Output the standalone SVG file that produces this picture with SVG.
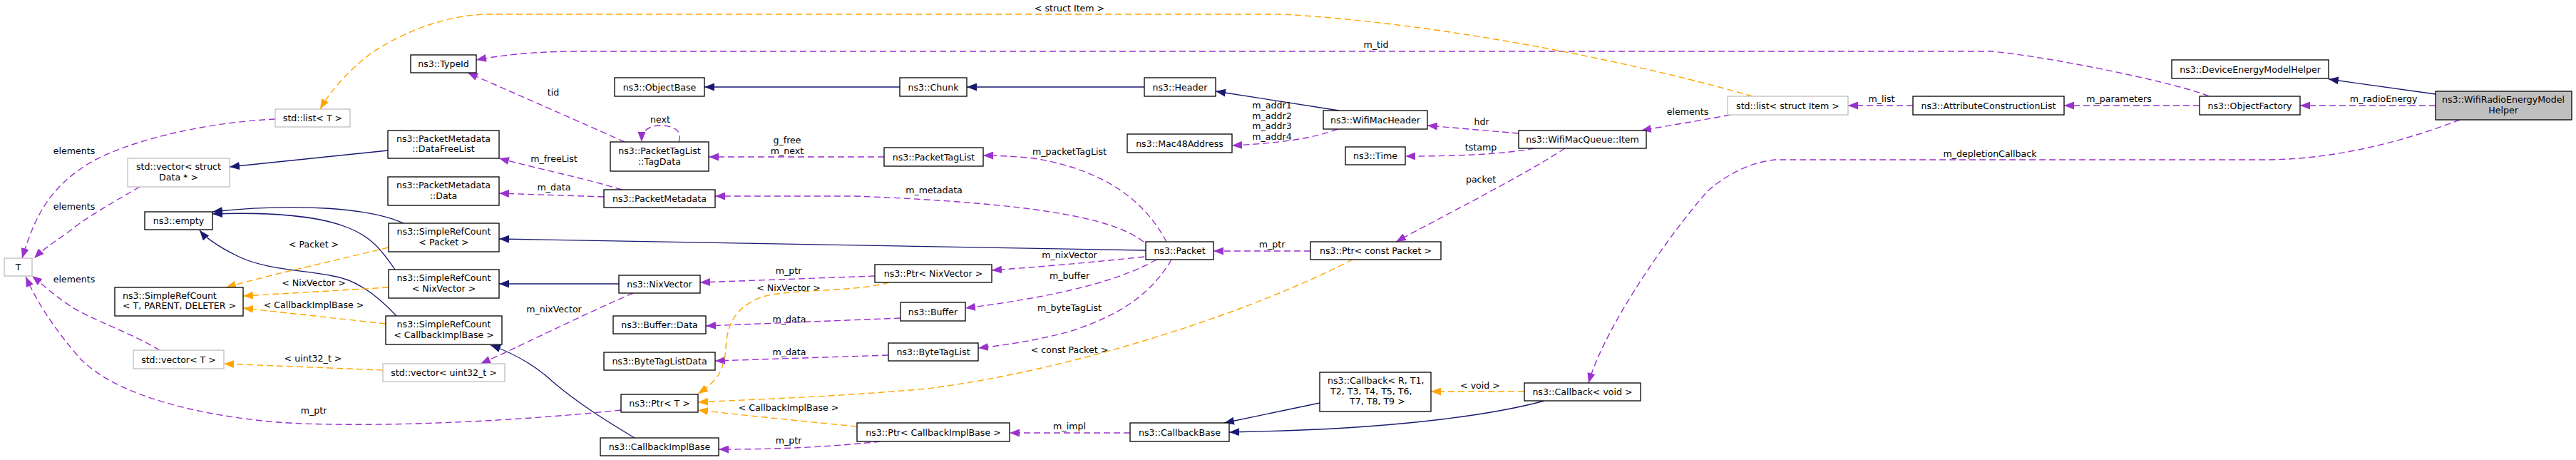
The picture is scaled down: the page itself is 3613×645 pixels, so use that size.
<svg xmlns="http://www.w3.org/2000/svg" width="3613" height="645" viewBox="0 0 3613 645">
<style>
text{font-family:"DejaVu Sans","Liberation Sans",sans-serif;font-size:12.6px;fill:#000}
.c{text-anchor:middle}
.n rect{fill:#fff;stroke:#000;stroke-width:1.3}
.g rect{fill:#fff;stroke:#bfbfbf;stroke-width:1.3}
.h rect{fill:#bfbfbf;stroke:#000;stroke-width:1.3}
.b{fill:none;stroke:#191970;stroke-width:1.3}
.p{fill:none;stroke:#9a32cd;stroke-width:1.4;stroke-dasharray:9,5}
.o{fill:none;stroke:#ffa500;stroke-width:1.4;stroke-dasharray:9,5}
</style>
<defs>
<marker id="ab" markerUnits="userSpaceOnUse" markerWidth="14" markerHeight="11" viewBox="0 0 14 11" refX="14" refY="5.5" orient="auto"><path d="M0,0 L14,5.5 L0,11 z" fill="#191970"/></marker>
<marker id="ap" markerUnits="userSpaceOnUse" markerWidth="14" markerHeight="11" viewBox="0 0 14 11" refX="14" refY="5.5" orient="auto"><path d="M0,0 L14,5.5 L0,11 z" fill="#9a32cd"/></marker>
<marker id="ao" markerUnits="userSpaceOnUse" markerWidth="14" markerHeight="11" viewBox="0 0 14 11" refX="14" refY="5.5" orient="auto"><path d="M0,0 L14,5.5 L0,11 z" fill="#ffa500"/></marker>
</defs>
<rect width="3613" height="645" fill="#fff"/>
<g id="connectors">
<path class="b" marker-end="url(#ab)" d="M544,211 L322,234"/>
<path class="b" marker-end="url(#ab)" d="M566,313 C520,292 420,284 298,297"/>
<path class="b" marker-end="url(#ab)" d="M554,378 C535,350 520,332 490,320 C450,303 380,297 298,300"/>
<path class="b" marker-end="url(#ab)" d="M556,443 C530,415 500,392 467,387 C420,378 370,378 331,358 C305,345 290,335 280,323"/>
<path class="b" marker-end="url(#ab)" d="M1262,122 L988,122"/>
<path class="b" marker-end="url(#ab)" d="M1605,122 L1356,122"/>
<path class="b" marker-end="url(#ab)" d="M1878,155 L1705,128"/>
<path class="b" marker-end="url(#ab)" d="M3416,132 L3266,111"/>
<path class="b" marker-end="url(#ab)" d="M1607,351 L700,335"/>
<path class="b" marker-end="url(#ab)" d="M868,398 L700,398"/>
<path class="b" marker-end="url(#ab)" d="M890,614 C850,590 810,565 775,535 C750,512 720,495 688,484"/>
<path class="b" marker-end="url(#ab)" d="M1851,565 L1717,593"/>
<path class="b" marker-end="url(#ab)" d="M2166,562 C2100,580 1980,598 1800,604 L1724,606"/>

<path class="p" marker-end="url(#ap)" d="M3416,148 L3226,148"/>
<path class="p" marker-end="url(#ap)" d="M3085,148 L2895,148"/>
<path class="p" marker-end="url(#ap)" d="M2683,148 L2592,148"/>
<path class="p" marker-end="url(#ap)" d="M3098,135 C3060,118 2880,80 2793,72 L800,72 C740,73 700,78 668,84"/>
<path class="p" marker-end="url(#ap)" d="M876,199 C800,165 720,130 656,102"/>
<path class="p" marker-end="url(#ap)" d="M952,199 C958,184 945,176 926,176 C908,176 900,185 900,199"/>
<path class="p" marker-end="url(#ap)" d="M1240,220 L994,220"/>
<path class="p" marker-end="url(#ap)" d="M872,266 C820,250 760,238 700,222"/>
<path class="p" marker-end="url(#ap)" d="M847,276 L700,271"/>
<path class="p" marker-end="url(#ap)" d="M1604,339 C1560,305 1450,285 1200,275 L1003,275"/>
<path class="p" marker-end="url(#ap)" d="M1636,339 C1610,290 1560,240 1450,222 C1420,219 1400,218 1379,218"/>
<path class="p" marker-end="url(#ap)" d="M1876,181 C1840,195 1790,201 1728,204"/>
<path class="p" marker-end="url(#ap)" d="M2130,187 L2002,176"/>
<path class="p" marker-end="url(#ap)" d="M2152,208 C2110,216 2050,219 1971,219"/>
<path class="p" marker-end="url(#ap)" d="M2195,208 C2130,250 2020,305 1958,339"/>
<path class="p" marker-end="url(#ap)" d="M2427,161 C2380,170 2340,176 2302,183"/>
<path class="p" marker-end="url(#ap)" d="M3450,168 C3380,195 3280,224 3176,224 L2489,224 C2450,228 2415,250 2395,268 C2340,330 2250,460 2228,537"/>
<path class="p" marker-end="url(#ap)" d="M1838,352 L1702,352"/>
<path class="p" marker-end="url(#ap)" d="M1605,360 C1530,368 1460,374 1391,379"/>
<path class="p" marker-end="url(#ap)" d="M1227,387 L982,396"/>
<path class="p" marker-end="url(#ap)" d="M888,411 C820,440 720,490 674,510"/>
<path class="p" marker-end="url(#ap)" d="M1622,364 C1560,400 1450,420 1354,432"/>
<path class="p" marker-end="url(#ap)" d="M1263,446 L990,457"/>
<path class="p" marker-end="url(#ap)" d="M1643,364 C1610,420 1560,445 1500,465 C1450,478 1410,484 1372,488"/>
<path class="p" marker-end="url(#ap)" d="M1246,498 L1003,506"/>
<path class="p" marker-end="url(#ap)" d="M1585,607 L1416,607"/>
<path class="p" marker-end="url(#ap)" d="M1235,619 C1150,628 1080,630 1008,630"/>
<path class="p" marker-end="url(#ap)" d="M871,575 C700,593 500,600 389,592 C250,580 150,545 110,500 C80,465 55,430 36,388"/>
<path class="p" marker-end="url(#ap)" d="M386,167 C280,172 170,200 120,232 C70,265 50,300 31,362"/>
<path class="p" marker-end="url(#ap)" d="M196,262 C165,280 120,305 95,326 C75,340 60,350 48,362"/>
<path class="p" marker-end="url(#ap)" d="M224,491 C180,465 128,448 100,430 C70,410 58,397 45,387"/>

<path class="o" marker-end="url(#ao)" d="M2458,135 C2320,95 2050,35 1800,20 L680,20 C620,22 560,48 520,75 C490,98 465,125 449,153"/>
<path class="o" marker-end="url(#ao)" d="M545,347 C450,370 380,385 317,403"/>
<path class="o" marker-end="url(#ao)" d="M545,403 L341,415"/>
<path class="o" marker-end="url(#ao)" d="M541,454 L341,432"/>
<path class="o" marker-end="url(#ao)" d="M537,519 L314,510"/>
<path class="o" marker-end="url(#ao)" d="M1247,396 C1200,410 1100,405 1067,417 C1030,432 1020,455 1018,488 C1016,520 1005,535 979,552"/>
<path class="o" marker-end="url(#ao)" d="M1897,364 C1750,440 1500,520 1300,545 C1150,558 1050,560 979,564"/>
<path class="o" marker-end="url(#ao)" d="M1202,598 C1120,590 1050,583 979,575"/>
<path class="o" marker-end="url(#ao)" d="M2138,549 L2007,549"/>

<text class="c" x="1500" y="16">&lt; struct Item &gt;</text>
<text class="c" x="1930" y="67">m_tid</text>
<text class="c" x="776" y="134">tid</text>
<text class="c" x="926" y="172">next</text>
<text class="c" x="1104" y="201">g_free</text>
<text class="c" x="1104" y="216">m_next</text>
<text class="c" x="777" y="227">m_freeList</text>
<text class="c" x="777" y="267">m_data</text>
<text class="c" x="1310" y="271">m_metadata</text>
<text class="c" x="1500" y="217">m_packetTagList</text>
<text class="c" x="1784" y="152">m_addr1</text>
<text class="c" x="1784" y="167">m_addr2</text>
<text class="c" x="1784" y="181">m_addr3</text>
<text class="c" x="1784" y="196">m_addr4</text>
<text class="c" x="2078" y="175">hdr</text>
<text class="c" x="2077" y="211">tstamp</text>
<text class="c" x="2077" y="256">packet</text>
<text class="c" x="2367" y="161">elements</text>
<text class="c" x="2639" y="143">m_list</text>
<text class="c" x="2972" y="143">m_parameters</text>
<text class="c" x="3343" y="143">m_radioEnergy</text>
<text class="c" x="2791" y="220">m_depletionCallback</text>
<text class="c" x="1784" y="347">m_ptr</text>
<text class="c" x="1500" y="362">m_nixVector</text>
<text class="c" x="1500" y="391">m_buffer</text>
<text class="c" x="1500" y="436">m_byteTagList</text>
<text class="c" x="1500" y="495">&lt; const Packet &gt;</text>
<text class="c" x="1500" y="602">m_impl</text>
<text class="c" x="1106" y="384">m_ptr</text>
<text class="c" x="1106" y="408">&lt; NixVector &gt;</text>
<text class="c" x="1107" y="452">m_data</text>
<text class="c" x="1107" y="498">m_data</text>
<text class="c" x="1106" y="576">&lt; CallbackImplBase &gt;</text>
<text class="c" x="1106" y="622">m_ptr</text>
<text class="c" x="777" y="438">m_nixVector</text>
<text class="c" x="440" y="347">&lt; Packet &gt;</text>
<text class="c" x="440" y="401">&lt; NixVector &gt;</text>
<text class="c" x="440" y="432">&lt; CallbackImplBase &gt;</text>
<text class="c" x="439" y="507">&lt; uint32_t &gt;</text>
<text class="c" x="440" y="580">m_ptr</text>
<text class="c" x="104" y="216">elements</text>
<text class="c" x="104" y="294">elements</text>
<text class="c" x="104" y="396">elements</text>
<text class="c" x="2076" y="545">&lt; void &gt;</text>
</g>

<g id="n_helper" class="h"><rect x="3416" y="128" width="191" height="40"/><text class="c" x="3511" y="144">ns3::WifiRadioEnergyModel</text><text class="c" x="3511" y="159">Helper</text></g>
<g id="n_devhelper" class="n"><rect x="3046" y="84" width="220" height="26"/><text class="c" x="3156" y="101.5">ns3::DeviceEnergyModelHelper</text></g>
<g id="n_objfactory" class="n"><rect x="3085" y="135" width="141" height="26"/><text class="c" x="3155.5" y="152.5">ns3::ObjectFactory</text></g>
<g id="n_acl" class="n"><rect x="2683" y="135" width="212" height="26"/><text class="c" x="2789" y="152.5">ns3::AttributeConstructionList</text></g>
<g id="n_listitem" class="g"><rect x="2423" y="135" width="169" height="26"/><text class="c" x="2507.5" y="152.5">std::list&lt; struct Item &gt;</text></g>
<g id="n_item" class="n"><rect x="2130" y="183" width="179" height="25"/><text class="c" x="2219.5" y="200">ns3::WifiMacQueue::Item</text></g>
<g id="n_wmh" class="n"><rect x="1856" y="155" width="146" height="26"/><text class="c" x="1929" y="172.5">ns3::WifiMacHeader</text></g>
<g id="n_time" class="n"><rect x="1887" y="206" width="84" height="25"/><text class="c" x="1929" y="223">ns3::Time</text></g>
<g id="n_mac48" class="n"><rect x="1581" y="188" width="147" height="26"/><text class="c" x="1654.5" y="205.5">ns3::Mac48Address</text></g>
<g id="n_header" class="n"><rect x="1605" y="109" width="100" height="26"/><text class="c" x="1655" y="126.5">ns3::Header</text></g>
<g id="n_chunk" class="n"><rect x="1262" y="109" width="94" height="26"/><text class="c" x="1309" y="126.5">ns3::Chunk</text></g>
<g id="n_objbase" class="n"><rect x="862" y="109" width="126" height="26"/><text class="c" x="925" y="126.5">ns3::ObjectBase</text></g>
<g id="n_typeid" class="n"><rect x="576" y="77" width="92" height="25"/><text class="c" x="622" y="94">ns3::TypeId</text></g>
<g id="n_listT" class="g"><rect x="386" y="153" width="105" height="25"/><text class="c" x="438.5" y="170">std::list&lt; T &gt;</text></g>
<g id="n_vecdata" class="g"><rect x="179" y="222" width="143" height="40"/><text class="c" x="250.5" y="238">std::vector&lt; struct</text><text class="c" x="250.5" y="253">Data * &gt;</text></g>
<g id="n_T" class="g"><rect x="6" y="362" width="39" height="25"/><text class="c" x="25.5" y="379">T</text></g>
<g id="n_empty" class="n"><rect x="203" y="297" width="95" height="25"/><text class="c" x="250.5" y="314">ns3::empty</text></g>
<g id="n_srcTPD" class="n"><rect x="161" y="403" width="180" height="40"/><text x="172" y="419">ns3::SimpleRefCount</text><text x="172" y="433">&lt; T, PARENT, DELETER &gt;</text></g>
<g id="n_vecT" class="g"><rect x="187" y="491" width="127" height="26"/><text class="c" x="250.5" y="508.5">std::vector&lt; T &gt;</text></g>
<g id="n_dfl" class="n"><rect x="544" y="183" width="156" height="39"/><text class="c" x="622" y="199">ns3::PacketMetadata</text><text class="c" x="622" y="213">::DataFreeList</text></g>
<g id="n_pmdata" class="n"><rect x="544" y="248" width="156" height="40"/><text class="c" x="622" y="264">ns3::PacketMetadata</text><text class="c" x="622" y="279">::Data</text></g>
<g id="n_srcPacket" class="n"><rect x="545" y="313" width="155" height="40"/><text class="c" x="622.5" y="329">ns3::SimpleRefCount</text><text class="c" x="622.5" y="344">&lt; Packet &gt;</text></g>
<g id="n_srcNix" class="n"><rect x="545" y="378" width="155" height="40"/><text class="c" x="622.5" y="394">ns3::SimpleRefCount</text><text class="c" x="622.5" y="409">&lt; NixVector &gt;</text></g>
<g id="n_srcCIB" class="n"><rect x="541" y="443" width="163" height="40"/><text class="c" x="622.5" y="459">ns3::SimpleRefCount</text><text class="c" x="622.5" y="474">&lt; CallbackImplBase &gt;</text></g>
<g id="n_vecU32" class="g"><rect x="537" y="510" width="171" height="25"/><text class="c" x="622.5" y="527">std::vector&lt; uint32_t &gt;</text></g>
<g id="n_tagdata" class="n"><rect x="856" y="199" width="138" height="41"/><text class="c" x="925" y="216">ns3::PacketTagList</text><text class="c" x="925" y="231">::TagData</text></g>
<g id="n_pmeta" class="n"><rect x="847" y="266" width="156" height="25"/><text class="c" x="925" y="283">ns3::PacketMetadata</text></g>
<g id="n_nix" class="n"><rect x="868" y="386" width="114" height="25"/><text class="c" x="925" y="403">ns3::NixVector</text></g>
<g id="n_bufdata" class="n"><rect x="860" y="443" width="130" height="25"/><text class="c" x="925" y="460">ns3::Buffer::Data</text></g>
<g id="n_btld" class="n"><rect x="847" y="494" width="156" height="25"/><text class="c" x="925" y="511">ns3::ByteTagListData</text></g>
<g id="n_ptrT" class="n"><rect x="871" y="553" width="108" height="25"/><text class="c" x="925" y="570">ns3::Ptr&lt; T &gt;</text></g>
<g id="n_cib" class="n"><rect x="842" y="614" width="166" height="25"/><text class="c" x="925" y="631">ns3::CallbackImplBase</text></g>
<g id="n_ptl" class="n"><rect x="1240" y="207" width="139" height="26"/><text class="c" x="1309.5" y="224.5">ns3::PacketTagList</text></g>
<g id="n_packet" class="n"><rect x="1607" y="339" width="95" height="25"/><text class="c" x="1654.5" y="356">ns3::Packet</text></g>
<g id="n_ptrnix" class="n"><rect x="1227" y="371" width="164" height="25"/><text class="c" x="1309" y="388">ns3::Ptr&lt; NixVector &gt;</text></g>
<g id="n_buffer" class="n"><rect x="1263" y="424" width="91" height="26"/><text class="c" x="1308.5" y="441.5">ns3::Buffer</text></g>
<g id="n_btl" class="n"><rect x="1246" y="481" width="126" height="25"/><text class="c" x="1309" y="498">ns3::ByteTagList</text></g>
<g id="n_ptrcib" class="n"><rect x="1202" y="593" width="214" height="26"/><text class="c" x="1309" y="610.5">ns3::Ptr&lt; CallbackImplBase &gt;</text></g>
<g id="n_cbbase" class="n"><rect x="1585" y="593" width="139" height="26"/><text class="c" x="1654.5" y="610.5">ns3::CallbackBase</text></g>
<g id="n_ptrcp" class="n"><rect x="1838" y="339" width="183" height="25"/><text class="c" x="1929.5" y="356">ns3::Ptr&lt; const Packet &gt;</text></g>
<g id="n_cbR" class="n"><rect x="1851" y="522" width="156" height="55"/><text x="1862" y="538">ns3::Callback&lt; R, T1,</text><text x="1866" y="553">T2, T3, T4, T5, T6,</text><text x="1893" y="567">T7, T8, T9 &gt;</text></g>
<g id="n_cbvoid" class="n"><rect x="2138" y="537" width="163" height="25"/><text class="c" x="2219.5" y="554">ns3::Callback&lt; void &gt;</text></g>
</svg>
